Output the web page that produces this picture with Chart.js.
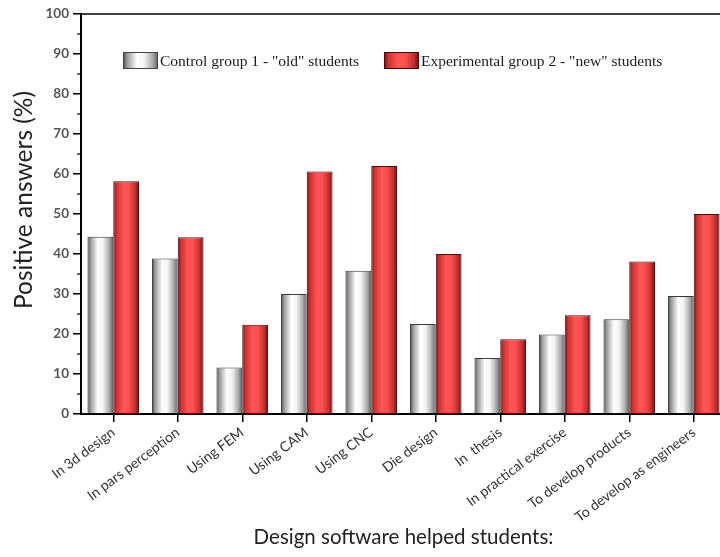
<!DOCTYPE html>
<html>
<head>
<meta charset="utf-8">
<script src="https://cdn.jsdelivr.net/npm/chart.js@4.4.0/dist/chart.umd.min.js"></script>
<style>
  html, body { margin: 0; padding: 0; overflow: hidden; background: #fff; }
</style>
</head>
<body>
<canvas id="chart" width="730" height="557"></canvas>
<script>
// Data
const categories = ['In 3d design', 'In pars perception', 'Using FEM', 'Using CAM', 'Using CNC',
  'Die design', 'In  thesis', 'In practical exercise', 'To develop products', 'To develop as engineers'];
const controlValues = [44.3, 38.9, 11.6, 30.0, 35.8, 22.5, 14.0, 19.9, 23.7, 29.5];
const experimentalValues = [58.2, 44.2, 22.3, 60.6, 62.0, 40.0, 18.7, 24.7, 38.1, 50.0];
const seriesLabels = ['Control group 1 - "old" students', 'Experimental group 2 - "new" students'];
const yTitle = 'Positive answers (%)';
const yMin = 0, yMax = 100, yStep = 10;

// gradient stops for the "cylinder" look of the bars
const greyStops = [[0, '#4a4a4a'], [0.12, '#9a9a9a'], [0.4, '#ffffff'], [0.6, '#f4f4f4'], [0.85, '#a8a8a8'], [1, '#5c5c5c']];
const redStops = [[0, '#6e0e0e'], [0.12, '#c83232'], [0.4, '#ff5454'], [0.6, '#fb5050'], [0.85, '#c43030'], [1, '#6a1010']];
const stopsFor = [greyStops, redStops];

function makeGradient(ctx, x0, x1, stops) {
  const g = ctx.createLinearGradient(x0, 0, x1, 0);
  stops.forEach(s => g.addColorStop(s[0], s[1]));
  return g;
}

// paint each bar with a horizontal gradient at draw time
const barGradients = {
  id: 'barGradients',
  beforeDatasetsDraw(chart) {
    const ctx = chart.ctx;
    chart.data.datasets.forEach((ds, i) => {
      chart.getDatasetMeta(i).data.forEach(bar => {
        const x0 = bar.x - bar.width / 2;
        bar.options.backgroundColor = makeGradient(ctx, x0, x0 + bar.width, stopsFor[i]);
      });
    });
  }
};

// frame top line, minor y ticks, y title and the in-plot legend
const decorations = {
  id: 'decorations',
  afterDraw(chart) {
    const { ctx, chartArea } = chart;
    const y = chart.scales.y;
    ctx.save();
    ctx.strokeStyle = '#000';
    ctx.lineWidth = 1.5;
    ctx.beginPath();
    ctx.moveTo(chartArea.left, chartArea.top);
    ctx.lineTo(chartArea.right, chartArea.top);
    ctx.stroke();

    ctx.lineWidth = 1.2;
    for (let v = yMin + yStep / 2; v < yMax; v += yStep) {
      const py = y.getPixelForValue(v);
      ctx.beginPath();
      ctx.moveTo(chartArea.left - 4, py);
      ctx.lineTo(chartArea.left, py);
      ctx.stroke();
    }

    // y axis title (sits a bit above the axis middle in the original)
    ctx.save();
    ctx.translate(24, 200);
    ctx.rotate(-Math.PI / 2);
    ctx.font = '24.5px Lato';
    ctx.fillStyle = '#222';
    ctx.textAlign = 'center';
    ctx.textBaseline = 'middle';
    ctx.fillText(yTitle, 0, 0);
    ctx.restore();

    // legend
    const boxes = [123, 384];
    ctx.font = '15.5px "Liberation Serif"';
    ctx.textBaseline = 'middle';
    ctx.textAlign = 'left';
    seriesLabels.forEach((label, i) => {
      const bx = boxes[i], by = 52, bw = 35, bh = 17;
      ctx.fillStyle = makeGradient(ctx, bx, bx + bw, stopsFor[i]);
      ctx.fillRect(bx, by, bw, bh);
      ctx.strokeStyle = i === 0 ? '#444' : '#4a0a0a';
      ctx.lineWidth = 1;
      ctx.strokeRect(bx + 0.5, by + 0.5, bw - 1, bh - 1);
      ctx.fillStyle = '#1a1a1a';
      ctx.fillText(label, bx + bw + 2, by + bh / 2 + 1);
    });
    ctx.restore();
  }
};

const ctx = document.getElementById('chart').getContext('2d');
new Chart(ctx, {
  type: 'bar',
  data: {
    labels: categories,
    datasets: [
      { label: seriesLabels[0], data: controlValues, backgroundColor: () => '#ddd', borderColor: '#3a3a3a', borderWidth: 1 },
      { label: seriesLabels[1], data: experimentalValues, backgroundColor: () => '#f44', borderColor: '#4a0a0a', borderWidth: 1 }
    ]
  },
  options: {
    responsive: false,
    animation: false,
    layout: { padding: { top: 14, right: 4, left: 0, bottom: 0 } },
    categoryPercentage: 0.8,
    barPercentage: 1.0,
    plugins: { legend: { display: false }, tooltip: { enabled: false } },
    scales: {
      x: {
        grid: { offset: false, drawOnChartArea: false, tickLength: 8, color: '#000', lineWidth: 1.5 },
        border: { color: '#000', width: 2 },
        ticks: { minRotation: 37, maxRotation: 37, padding: 2, color: '#333', font: { family: 'Lato', size: 14 } },
        title: { display: true, text: 'Design software helped students:', color: '#222',
                 font: { family: 'Lato', size: 20.5 }, padding: { top: 4, bottom: 7 } },
        afterFit(scale) { scale.height = 143; }
      },
      y: {
        min: yMin, max: yMax,
        grid: { drawOnChartArea: false, tickLength: 8, color: '#000', lineWidth: 1.5 },
        border: { color: '#000', width: 2 },
        ticks: { stepSize: yStep, padding: 4, color: '#555', font: { family: 'Lato', size: 13.5, weight: 'bold' } },
        afterFit(scale) { scale.width = 81; }
      }
    }
  },
  plugins: [barGradients, decorations]
});
</script>
</body>
</html>
